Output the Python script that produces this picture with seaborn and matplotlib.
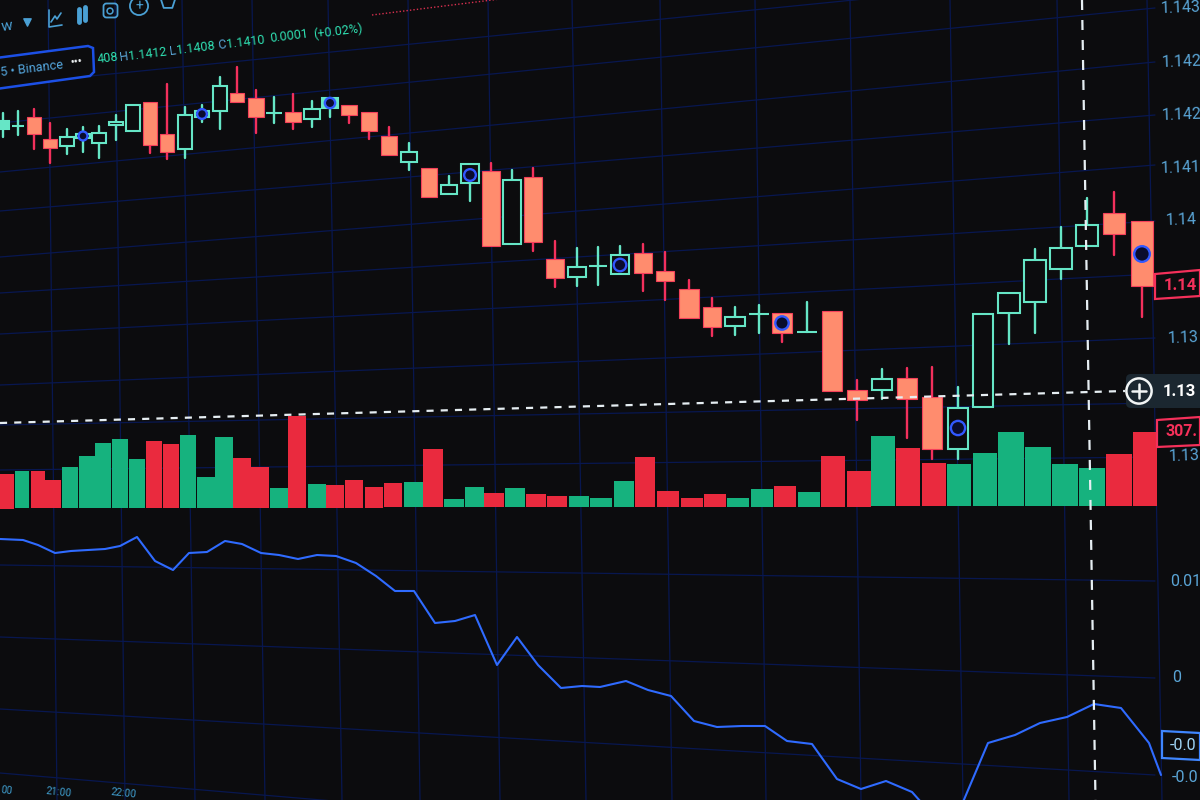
import numpy as np
import pandas as pd
import matplotlib
matplotlib.use('Agg')
import matplotlib.pyplot as plt
from matplotlib.patches import Polygon, FancyBboxPatch
import seaborn as sns

# ===== candles (chart units, y grows downward) =====
candle_x = [3, 18, 34, 50, 67, 83, 99, 116, 133, 150, 167, 185, 202, 220, 237, 256, 274, 293, 312, 330,
            349, 369, 389, 409, 429, 449, 470, 491, 512, 533, 555, 577, 598, 620, 643, 665, 689, 712, 735, 759, 782,
            807, 832, 857, 882, 907, 932, 958, 983, 1009, 1035, 1061, 1087, 1114, 1142]
candle_hi = [113, 111, 109, 123, 129, 127, 126, 115, 105, 102, 84, 107, 105, 77, 67, 90, 97, 94, 101, 98,
             105, 112, 127, 143, 168, 176, 164, 163, 170, 168, 241, 248, 247, 246, 244, 252, 280, 298, 307, 305, 313,
             302, 311, 380, 369, 368, 367, 387, 314, 293, 249, 227, 198, 192, 221]
candle_top = [121, 126, 117, 139, 137, 134, 133, 122, 105, 102, 134, 115, 111, 86, 93, 98, 113, 112, 109, 98,
              105, 112, 136, 152, 168, 185, 164, 171, 180, 177, 259, 267, 266, 255, 253, 271, 289, 307, 317, 314, 313,
              332, 311, 390, 379, 378, 397, 408, 314, 293, 260, 248, 225, 213, 221]
candle_bot = [129, 126, 134, 148, 146, 138, 143, 125, 131, 145, 152, 149, 117, 111, 102, 117, 113, 122, 119, 108,
              115, 131, 155, 162, 197, 194, 183, 246, 244, 242, 278, 277, 266, 274, 273, 281, 318, 327, 326, 314, 333,
              332, 391, 400, 390, 399, 449, 449, 407, 313, 302, 269, 246, 234, 286]
candle_lo = [137, 135, 149, 163, 154, 152, 158, 140, 131, 153, 159, 158, 122, 129, 102, 133, 123, 129, 127, 117,
             123, 139, 155, 170, 197, 194, 201, 246, 244, 251, 287, 286, 285, 274, 291, 300, 318, 336, 335, 333, 342,
             332, 391, 420, 399, 438, 459, 459, 407, 344, 333, 279, 246, 255, 317]
candle_up = [1, 1, 0, 0, 1, 1, 1, 1, 1, 0, 0, 1, 1, 1, 0, 0, 1, 0, 1, 1,
             0, 0, 0, 1, 0, 1, 1, 0, 1, 0, 0, 1, 1, 1, 0, 0, 0, 0, 1, 1, 0,
             1, 0, 0, 1, 0, 0, 1, 1, 1, 1, 1, 1, 0, 0]
candle_solid = [0, 19]
dot_index = [5, 12, 19, 26, 33, 40, 47, 54]
dot_y = [136, 114, 103, 175, 265, 323, 428, 254]

# ===== volume =====
vol_x = [7, 22, 38, 53, 70, 87, 103, 120, 137, 154, 171, 188, 206, 224, 242, 260, 279, 297, 317, 335, 354, 374, 393,
         413, 433, 454, 474, 494, 515, 536, 557, 579, 601, 624, 645, 668, 692, 715, 738, 762, 785, 809, 833, 859,
         883, 908, 934, 959, 985, 1011, 1038, 1065, 1092, 1119, 1145]
vol_top = [474, 471, 471, 480, 467, 456, 443, 439, 459, 441, 444, 435, 477, 437, 458, 467, 488, 416, 484, 485, 480, 487, 483,
           482, 449, 499, 487, 493, 488, 494, 496, 496, 498, 481, 457, 491, 498, 494, 498, 489, 486, 492, 456, 471,
           436, 448, 463, 464, 453, 432, 447, 464, 468, 454, 432]
vol_up = [0, 1, 0, 0, 1, 1, 1, 1, 1, 0, 0, 1, 1, 1, 0, 0, 1, 0, 1, 0, 0, 0, 0,
          1, 0, 1, 1, 0, 1, 0, 0, 1, 1, 1, 0, 0, 0, 0, 1, 1, 0, 1, 0, 0,
          1, 0, 0, 1, 1, 1, 1, 1, 1, 0, 0]

# ===== lower indicator =====
ind_x = [0, 23, 38, 55, 71, 88, 105, 120, 137, 155, 173, 189, 207, 225, 242, 261, 279, 298, 317, 336, 356, 376, 395, 414,
         435, 455, 475, 497, 517, 538, 561, 582, 600, 626, 648, 671, 694, 717, 742, 765, 787, 812, 837, 861, 886, 912,
         937, 963, 988, 1015, 1040, 1067, 1094, 1121, 1149, 1161]
ind_y = [539, 540, 545, 553, 551, 550, 549, 546, 537, 561, 570, 553, 552, 541, 544, 553, 555, 559, 555, 556, 563, 576, 591, 591,
         623, 621, 615, 665, 637, 665, 688, 686, 687, 681, 690, 696, 721, 727, 726, 726, 741, 744, 779, 789, 781, 792,
         820, 802, 743, 735, 723, 717, 704, 708, 743, 775]

# ===== grid, tilted because the screen is photographed at an angle =====
grid_x_top = [48, 115, 182, 252, 328, 408, 488, 572, 660, 755, 850, 950, 1057, 1147]
grid_x_bottom = [57, 125, 195, 265, 342, 420, 500, 586, 672, 766, 861, 963, 1069, 1162]
grid_y_left = [85, 123, 172, 211, 257, 293, 334, 385, 425, 470, 565, 637, 709, 773]
grid_y_right = [-30, 8, 62, 115, 165, 221, 274, 338, 403, 457, 581, 678, 775, 870]

# right axis text
price_labels = ['1.143', '1.142', '1.142', '1.141', '1.14', '1.13', '1.13']
price_label_y = [8, 62, 115, 168, 220, 338, 456]
price_label_x = [1160, 1161, 1161, 1160, 1165, 1167, 1168]
ind_labels = ['0.01', '0', '-0.0']
ind_label_y = [582, 678, 777]
ind_label_x = [1170, 1172, 1172]

BG = '#0c0c0e'
GRID = '#081750'
UP = '#66e6c6'
DOWN_FILL = '#ff8c6e'
DOWN_EDGE = '#f5405a'
VOL_UP = '#16b27e'
VOL_DOWN = '#ea2a3e'
LINE = '#2f6bff'
AXIS_BLUE = '#5aa5d6'
TEAL = '#2fe0b2'

sns.set_theme(style='dark', rc={'axes.facecolor': BG, 'figure.facecolor': BG})
plt.rcParams['font.family'] = ['Roboto', 'DejaVu Sans']

fig = plt.figure(figsize=(12, 8), dpi=100)
ax = fig.add_axes([0, 0, 1, 1])
ax.set_xlim(0, 1200)
ax.set_ylim(800, 0)
ax.axis('off')
fig.patch.set_facecolor(BG)

# grid
for x0, x1 in zip(grid_x_top, grid_x_bottom):
    ax.plot([x0, x1], [0, 800], color=GRID, lw=0.9, zorder=1)
for y0, y1 in zip(grid_y_left, grid_y_right):
    ax.plot([0, 1155], [y0, y1], color=GRID, lw=0.9, zorder=1)
ax.plot([372, 500], [15, -1], color='#d9304f', lw=1, ls=(0, (1, 1.5)), zorder=2)

# volume bars
vol = pd.DataFrame({'x': vol_x, 'top': vol_top, 'up': vol_up})
vol['width'] = np.gradient(vol['x']) * 0.95
vol['base'] = np.linspace(508.5, 506, len(vol))
ax.bar(vol['x'], vol['base'] - vol['top'], bottom=vol['top'], width=vol['width'],
       color=[VOL_UP if u else VOL_DOWN for u in vol['up']], lw=0, zorder=3)

# candles
c = pd.DataFrame({'x': candle_x, 'hi': candle_hi, 'top': candle_top, 'bot': candle_bot,
                  'lo': candle_lo, 'up': candle_up})
c['width'] = np.gradient(c['x']) * 0.82
for i, r in c.iterrows():
    edge = UP if r['up'] else DOWN_EDGE
    wick = UP if r['up'] else '#f3305c'
    fill = DOWN_FILL if not r['up'] else (UP if i in candle_solid else BG)
    ax.plot([r['x'], r['x']], [r['hi'], r['top']], color=wick, lw=1.7, zorder=4)
    ax.plot([r['x'], r['x']], [r['bot'], r['lo']], color=wick, lw=1.7, zorder=4)
    ax.bar(r['x'], r['bot'] - r['top'], bottom=r['top'], width=r['width'], color=fill,
           edgecolor=edge, lw=1.5 if r['up'] else 0.8, zorder=5)

# marks on every seventh candle, larger toward the camera
dots = pd.DataFrame({'x': c['x'].iloc[dot_index].values, 'y': dot_y,
                     'w': c['width'].iloc[dot_index].values})
dots['s'] = (dots['w'] * 0.68 * 0.72) ** 2
sns.scatterplot(data=dots, x='x', y='y', s=dots['s'], color='#0a0c2e', edgecolor='#3158ff',
                linewidth=1.7, zorder=6, ax=ax, legend=False)

# indicator line
ind = pd.DataFrame({'x': ind_x, 'y': ind_y})
sns.lineplot(data=ind, x='x', y='y', color=LINE, lw=1.5, zorder=4, ax=ax, sort=False, estimator=None)
ax.set_xlim(0, 1200)
ax.set_ylim(800, 0)
ax.axis('off')

# crosshair
ax.plot([0, 1125], [423, 391], color='#e6eef2', lw=1.6, ls=(0, (3.2, 3.2)), zorder=7)
ax.plot([1082, 1095.5], [0, 800], color='#e6eef2', lw=1.6, ls=(0, (4.5, 4.5)), zorder=7)

# right axis labels, sized to stay inside the frame
for x, y, s in zip(price_label_x, price_label_y, price_labels):
    ax.text(x, y, s, color=AXIS_BLUE, fontsize=11.5, va='center', ha='left', rotation=2, zorder=8)
for x, y, s in zip(ind_label_x, ind_label_y, ind_labels):
    ax.text(x, y, s, color=AXIS_BLUE, fontsize=11.5, va='center', ha='left', zorder=8)

# value boxes on the axis
ax.add_patch(Polygon([[1155, 274], [1200, 270], [1200, 296], [1155, 299]], closed=True,
                     fc=BG, ec='#f5305a', lw=1.6, zorder=8))
ax.text(1164, 285, '1.14', color='#f5305a', fontsize=12, fontweight='bold', va='center', zorder=9)
ax.add_patch(Polygon([[1157, 420], [1200, 417], [1200, 445], [1157, 447]], closed=True,
                     fc=BG, ec='#f5305a', lw=1.6, zorder=8))
ax.text(1166, 432, '307.', color='#f5305a', fontsize=11.5, fontweight='bold', va='center', zorder=9)
ax.add_patch(Polygon([[1162, 731], [1200, 733], [1200, 760], [1162, 758]], closed=True,
                     fc=BG, ec='#3f86ff', lw=1.6, zorder=8))
ax.text(1170, 746, '-0.0', color='#9fd4f5', fontsize=11.5, va='center', zorder=9)

# crosshair label
ax.add_patch(FancyBboxPatch((1128, 376), 90, 30, boxstyle='round,pad=2,rounding_size=5',
                            fc='#1b2730', ec='none', zorder=8))
ax.scatter([1139], [391], s=330, facecolor='none', edgecolor='#f2f5f5', linewidth=1.8, zorder=9)
ax.plot([1132, 1146], [391, 391], color='#f2f5f5', lw=1.8, zorder=9)
ax.plot([1139, 1139], [384, 398], color='#f2f5f5', lw=1.8, zorder=9)
ax.text(1163, 391, '1.13', color='white', fontsize=12, fontweight='bold', va='center', zorder=9)

# legend row at the top
ax.add_patch(Polygon([[-4, 58], [88, 46], [93, 48], [94, 72], [90, 76], [-4, 89]], closed=True,
                     fc=BG, ec='#1c50e6', lw=1.8, zorder=8))
ax.text(1, 73, '5 • Binance', color='#55a8e0', fontsize=9.2, va='center', rotation=7,
        rotation_mode='anchor', zorder=9)
ax.text(70, 63, '•••', color='#eef2f4', fontsize=8, fontweight='bold', va='center', rotation=7,
        rotation_mode='anchor', zorder=9)
legend_parts = [(97, 60, '408', TEAL), (120, 58, 'H', AXIS_BLUE), (129, 57, '1.1412', TEAL),
                (170, 52, 'L', AXIS_BLUE), (177, 51, '1.1408', TEAL), (218, 46, 'C', AXIS_BLUE),
                (227, 45, '1.1410', TEAL), (270, 39, '0.0001', TEAL), (313, 34, '(+0.02%)', TEAL)]
for x, y, s, col in legend_parts:
    ax.text(x, y, s, color=col, fontsize=9, va='center', rotation=7, rotation_mode='anchor', zorder=9)

# toolbar icons
icon = '#4aa0d4'
ax.text(1, 27, 'w', color=icon, fontsize=11, va='center', rotation=7, rotation_mode='anchor')
ax.scatter([27], [22], marker='v', s=28, color=icon, zorder=9)
ax.plot([49, 49, 62], [10, 27, 25], color=icon, lw=1.2)
ax.plot([51, 55, 57, 61], [22, 16, 19, 13], color=icon, lw=1.2)
ax.plot([79, 79], [9, 22], color=icon, lw=3.5)
ax.plot([85, 85], [7, 20], color=icon, lw=3.5)
ax.add_patch(FancyBboxPatch((105, 5), 11, 11, boxstyle='round,pad=1.5,rounding_size=3', fc='none', ec=icon, lw=1.3))
ax.scatter([110], [11], s=18, facecolor='none', edgecolor=icon, linewidth=1.1)
ax.scatter([139], [6], s=170, facecolor='none', edgecolor=icon, linewidth=1.3)
ax.text(139, 6, '+', color=icon, fontsize=10, ha='center', va='center')
ax.scatter([168], [2], s=110, marker='p', facecolor='none', edgecolor=icon, linewidth=1.3)

# time axis
time_parts = [(1, 790, '00', -6), (46, 791, '21:00', -6), (111, 792, '22:00', -6)]
for x, y, s, rot in time_parts:
    ax.text(x, y, s, color='#3f9ccc', fontsize=7.5, va='center', rotation=rot, rotation_mode='anchor')

fig.savefig('out.png', dpi=100, facecolor=BG)
